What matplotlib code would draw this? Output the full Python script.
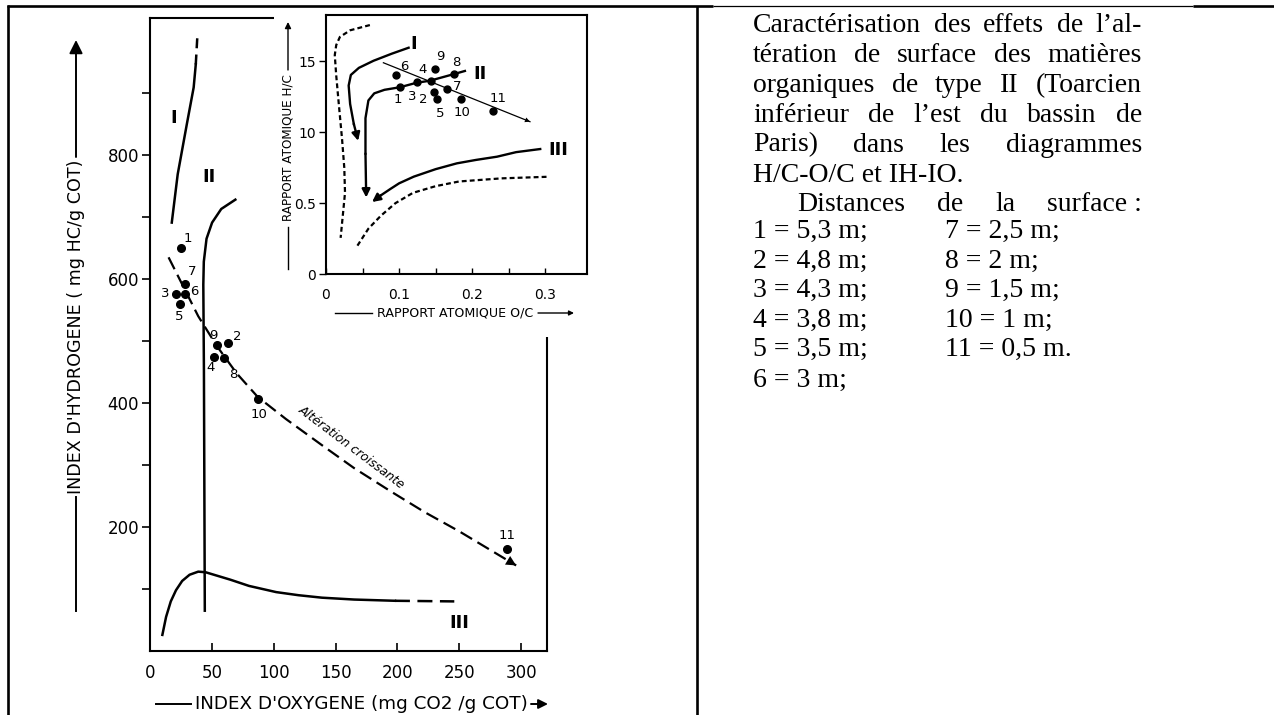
import matplotlib
matplotlib.use('Agg')
import matplotlib.pyplot as plt
from matplotlib import font_manager
from matplotlib.patches import Rectangle

# --- samples (IH-IO diagram and H/C-O/C inset) ---
samples = ['1', '2', '3', '4', '5', '6', '7', '8', '9', '10', '11']
io_pts = [25, 63, 21, 52, 24, 28, 28, 60, 54, 87, 289]
ih_pts = [650, 496, 576, 474, 560, 576, 592, 472, 494, 406, 164]
oc_pts = [0.101, 0.148, 0.124, 0.143, 0.152, 0.096, 0.166, 0.175, 0.149, 0.185, 0.229]
hc_pts = [1.318, 1.284, 1.353, 1.364, 1.235, 1.402, 1.306, 1.411, 1.447, 1.233, 1.152]

# --- evolution paths, main diagram ---
typeI_io = [17.6, 22.4, 29.8, 35.3, 37.0]
typeI_ih = [691, 769, 850, 909, 946]
typeI_ext_io = [37.0, 38.3]
typeI_ext_ih = [946, 992]
typeII_io = [69, 57.6, 50.2, 45.7, 43.5, 43.1, 43.6, 44.3]
typeII_ih = [728, 713, 691, 665, 628, 591, 450, 65]
typeIII_io = [10, 13, 16.8, 21, 26, 32, 39, 45, 55, 65, 80, 102, 120, 139, 165, 198]
typeIII_ih = [26, 55, 80, 98, 113, 123, 128, 127, 121, 115, 105, 95, 90, 86, 83, 81]
typeIII_ext_io = [198, 246]
typeIII_ext_ih = [81, 80]
alter_io = [15, 39, 54, 70, 87, 110, 139, 165, 195, 222, 250, 296]
alter_ih = [635, 540, 492, 448, 410, 374, 332, 295, 257, 224, 193, 138]

# --- evolution paths, inset (O/C, H/C) ---
inI_oc = [0.113, 0.090, 0.065, 0.045, 0.034, 0.031, 0.033, 0.038, 0.044]
inI_hc = [1.597, 1.555, 1.505, 1.455, 1.405, 1.33, 1.20, 1.06, 0.94]
inII_oc = [0.19, 0.175, 0.142, 0.124, 0.101, 0.080, 0.066, 0.058, 0.054, 0.054, 0.055]
inII_hc = [1.433, 1.411, 1.364, 1.350, 1.318, 1.300, 1.275, 1.225, 1.10, 0.85, 0.54]
inIII_oc = [0.293, 0.26, 0.234, 0.205, 0.179, 0.15, 0.12, 0.10, 0.088, 0.075, 0.063]
inIII_hc = [0.882, 0.860, 0.828, 0.805, 0.781, 0.740, 0.687, 0.640, 0.600, 0.555, 0.508]
bound_up_oc = [0.060, 0.033, 0.019, 0.014, 0.012, 0.014, 0.017, 0.022, 0.025, 0.026, 0.020]
bound_up_hc = [1.757, 1.72, 1.673, 1.616, 1.545, 1.40, 1.228, 0.95, 0.75, 0.573, 0.255]
bound_lo_oc = [0.043, 0.058, 0.075, 0.095, 0.119, 0.15, 0.182, 0.24, 0.302]
bound_lo_hc = [0.20, 0.32, 0.411, 0.50, 0.573, 0.62, 0.653, 0.675, 0.686]
trend_oc = [0.0785, 0.279]
trend_hc = [1.491, 1.075]

# --- caption ---
para_lines = ["Caractérisation des effets de l’al-",
              "tération de surface des matières",
              "organiques de type II (Toarcien",
              "inférieur de l’est du bassin de",
              "Paris) dans les diagrammes"]
para_last = "H/C-O/C et IH-IO."
dist_title = "Distances de la surface\u00a0:"
dist_left = ["1 = 5,3 m;", "2 = 4,8 m;", "3 = 4,3 m;", "4 = 3,8 m;", "5 = 3,5 m;", "6 = 3 m;"]
dist_right = ["7 = 2,5 m;", "8 = 2 m;", "9 = 1,5 m;", "10 = 1 m;", "11 = 0,5 m."]

# label offsets (pixels) around the dots
main_off = {'1': (7, 10), '2': (9, 7), '3': (-11, 0), '4': (-4, -10), '5': (-1, -13),
            '6': (10, 2), '7': (7, 12), '8': (9, -16), '9': (-3, 9), '10': (1, -15), '11': (0, 14)}
ins_off = {'1': (-2, -12), '2': (-11, -7), '3': (-4, -14), '4': (-8, 11), '5': (3, -14),
           '6': (8, 9), '7': (10, 2), '8': (2, 12), '9': (5, 12), '10': (1, -13), '11': (5, 12)}

names = {f.name for f in font_manager.fontManager.ttflist}
narrow = 'Liberation Sans Narrow' if 'Liberation Sans Narrow' in names else 'DejaVu Sans'
serif = 'Liberation Serif'

W, H = 1274, 715
fig = plt.figure(figsize=(W / 100, H / 100), dpi=100)
renderer = fig.canvas.get_renderer()


def box(l, t, r, b):
    return [l / W, 1 - b / H, (r - l) / W, (b - t) / H]


# main IH-IO diagram
ax = fig.add_axes(box(150, 18, 546.7, 651), zorder=1)
ax.set_xlim(0, 320.7)
ax.set_ylim(0, 1021)
for s in ax.spines.values():
    s.set_linewidth(1.5)
ax.set_xticks([0, 50, 100, 150, 200, 250, 300])
ax.set_yticks(range(100, 1000, 100))
ax.set_yticklabels(['' if v % 200 else str(v) for v in range(100, 1000, 100)])
ax.tick_params(axis='x', direction='in', length=6, width=1.2, pad=9,
               labelsize=12, labelfontfamily=narrow)
ax.tick_params(axis='y', direction='out', length=6, width=1.2, pad=2,
               labelsize=12, labelfontfamily=narrow)

lw = 1.8
ax.plot(typeI_io, typeI_ih, color='k', lw=lw)
ax.plot(typeI_ext_io, typeI_ext_ih, color='k', lw=lw, ls=(0, (4, 2.5)))
ax.plot(typeII_io, typeII_ih, color='k', lw=lw)
ax.plot(typeIII_io, typeIII_ih, color='k', lw=lw)
ax.plot(typeIII_ext_io, typeIII_ext_ih, color='k', lw=lw, ls=(0, (6, 3)))
ax.plot(alter_io, alter_ih, color='k', lw=1.6, ls=(0, (6, 2.8)))
ax.annotate('', xy=(alter_io[-1], alter_ih[-1]), xytext=(alter_io[-2], alter_ih[-2]),
            arrowprops=dict(arrowstyle='-|>', color='k', lw=0, mutation_scale=18,
                            shrinkA=0, shrinkB=0))
ax.plot(io_pts, ih_pts, 'o', color='k', ms=5.5)
for s, x, y in zip(samples, io_pts, ih_pts):
    ax.annotate(s, (x, y), xytext=main_off[s], textcoords='offset pixels',
                ha='center', va='center', fontsize=9.5, family=narrow)
ax.text(19, 859, 'I', fontsize=13, fontweight='bold', family=narrow, ha='center', va='center')
ax.text(48, 765, 'II', fontsize=13, fontweight='bold', family=narrow, ha='center', va='center')
ax.text(250, 45, 'III', fontsize=13, fontweight='bold', family=narrow, ha='center', va='center')
ax.text(163, 329, 'Altération croissante', rotation=-37, fontsize=9, style='italic',
        family=narrow, ha='center', va='center', rotation_mode='anchor')

# overlay in pixel coordinates: table frame, mask, axis titles, caption
ov = fig.add_axes([0, 0, 1, 1], zorder=2)
ov.set_xlim(0, W)
ov.set_ylim(H, 0)
ov.axis('off')
ov.add_patch(Rectangle((274, 0), 330, 337, facecolor='white', edgecolor='none', zorder=1))
k = dict(color='k', solid_capstyle='butt', zorder=5)
ov.plot([7.5, 7.5], [4.5, H], lw=1.9, **k)
ov.plot([6.5, 713], [5.5, 5.5], lw=1.9, **k)
ov.plot([713, 1193], [5.5, 5.5], lw=0.9, **k)
ov.plot([1193, W], [5.5, 5.5], lw=1.9, **k)
ov.plot([697, 697], [5.5, H], lw=1.9, **k)


def fit(t, target):
    w = t.get_window_extent(renderer).width
    t.set_fontsize(t.get_fontsize() * target / w)


# main y title
ov.plot([76, 76], [611, 497], color='k', lw=1.4)
ov.annotate('', xy=(76, 40), xytext=(76, 157),
            arrowprops=dict(arrowstyle='-|>', color='k', lw=1.4, mutation_scale=20,
                            shrinkA=0, shrinkB=0))
t = ov.text(76, 327, "INDEX D'HYDROGENE ( mg HC/g COT)", ha='center', va='center',
            fontsize=16, family=narrow)
fit(t, 334)
t.set_rotation(90)
# main x title
ov.plot([156, 191], [704, 704], color='k', lw=1.4)
ov.annotate('', xy=(548, 704), xytext=(531, 704),
            arrowprops=dict(arrowstyle='-|>', color='k', lw=1.4, mutation_scale=14,
                            shrinkA=0, shrinkB=0))
t = ov.text(361.5, 704, "INDEX D'OXYGENE (mg CO2 /g COT)", ha='center', va='center',
            fontsize=16, family=narrow)
fit(t, 335)
# inset y title
ov.plot([288, 288], [269, 227], color='k', lw=1.0)
ov.annotate('', xy=(288, 22), xytext=(288, 70),
            arrowprops=dict(arrowstyle='-|>', color='k', lw=1.0, mutation_scale=9,
                            shrinkA=0, shrinkB=0))
t = ov.text(288, 148, "RAPPORT ATOMIQUE H/C", ha='center', va='center',
            fontsize=10, family=narrow)
fit(t, 148)
t.set_rotation(90)
# inset x title
ov.plot([335, 372], [313, 313], color='k', lw=1.0)
ov.annotate('', xy=(574, 313), xytext=(538, 313),
            arrowprops=dict(arrowstyle='-|>', color='k', lw=1.0, mutation_scale=7,
                            shrinkA=0, shrinkB=0))
t = ov.text(455, 313, "RAPPORT ATOMIQUE O/C", ha='center', va='center',
            fontsize=10, family=narrow)
fit(t, 156)


# caption, justified like the printed page
def justify(line, x0, x1, y):
    words = line.split(' ')
    ts = [ov.text(0, y, w, fontsize=20, family=serif, va='baseline') for w in words]
    ws = [tt.get_window_extent(renderer).width for tt in ts]
    gap = (x1 - x0 - sum(ws)) / (len(ws) - 1)
    x = x0
    for tt, w in zip(ts, ws):
        tt.set_x(x)
        x += w + gap


base = 32
step = 29.9
for i, line in enumerate(para_lines):
    justify(line, 753, 1142, base + i * step)
ov.text(753, base + 5 * step, para_last, fontsize=20, family=serif, va='baseline')
justify(dist_title, 797, 1142, base + 6 * step)
row_y = [238, 268, 297, 327, 356, 387]
for s, y in zip(dist_left, row_y):
    ov.text(753, y, s, fontsize=20, family=serif, va='baseline')
for s, y in zip(dist_right, row_y):
    ov.text(945, y, s, fontsize=20, family=serif, va='baseline')

# inset H/C - O/C diagram
ins = fig.add_axes(box(326, 15, 587, 274), zorder=3)
ins.set_xlim(0, 0.357)
ins.set_ylim(0, 1.828)
for s in ins.spines.values():
    s.set_linewidth(1.5)
ins.set_xticks([0, 0.1, 0.2, 0.3])
ins.set_xticklabels(['0', '0.1', '0.2', '0.3'])
ins.set_xticks([0.05, 0.15, 0.25], minor=True)
ins.set_yticks([0, 0.5, 1.0, 1.5])
ins.set_yticklabels(['0', '0.5', '10', '15'])
ins.tick_params(axis='x', which='both', direction='in', length=4, width=1.0, pad=10,
                labelsize=10, labelfontfamily=narrow)
ins.tick_params(axis='y', direction='out', length=5, width=1.0, pad=2,
                labelsize=10, labelfontfamily=narrow)

ins.plot(bound_up_oc, bound_up_hc, color='k', lw=1.6, ls=(0, (2.2, 1.4)))
ins.plot(bound_lo_oc, bound_lo_hc, color='k', lw=1.6, ls=(0, (2.2, 1.4)))
ins.plot(trend_oc, trend_hc, color='k', lw=0.9)
ins.annotate('', xy=(trend_oc[-1], trend_hc[-1]), xytext=(trend_oc[0], trend_hc[0]),
             arrowprops=dict(arrowstyle='-|>', color='k', lw=0, mutation_scale=9,
                             shrinkA=0, shrinkB=0))
for xs, ys in [(inI_oc, inI_hc), (inII_oc, inII_hc), (inIII_oc, inIII_hc)]:
    ins.plot(xs[:-1], ys[:-1], color='k', lw=1.7)
    ins.annotate('', xy=(xs[-1], ys[-1]), xytext=(xs[-2], ys[-2]),
                 arrowprops=dict(arrowstyle='-|>', color='k', lw=1.7, mutation_scale=12,
                                 shrinkA=0, shrinkB=0))
ins.plot(oc_pts, hc_pts, 'o', color='k', ms=5)
for s, x, y in zip(samples, oc_pts, hc_pts):
    ins.annotate(s, (x, y), xytext=ins_off[s], textcoords='offset pixels',
                 ha='center', va='center', fontsize=9.5, family=narrow)
ins.text(0.12, 1.62, 'I', fontsize=13, fontweight='bold', family=narrow, ha='center', va='center')
ins.text(0.211, 1.415, 'II', fontsize=13, fontweight='bold', family=narrow, ha='center', va='center')
ins.text(0.318, 0.878, 'III', fontsize=13, fontweight='bold', family=narrow, ha='center', va='center')

fig.savefig('out.png', dpi=100)
